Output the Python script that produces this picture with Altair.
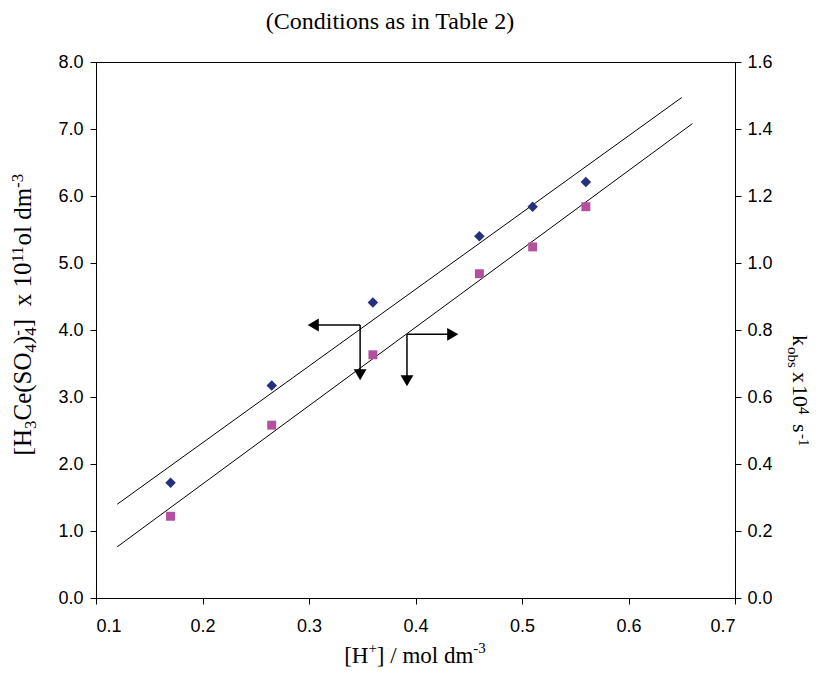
import altair as alt
import pandas as pd

# ---- data ----
h_conc = [0.17, 0.265, 0.36, 0.46, 0.51, 0.56]          # [H+] / mol dm-3
complex_conc = [1.72, 3.17, 4.41, 5.40, 5.84, 6.21]     # left axis (diamonds)
k_obs = [0.244, 0.516, 0.726, 0.968, 1.048, 1.168]      # right axis (squares)

fit_upper_x = [0.12, 0.65]
fit_upper_y = [1.40, 7.47]
fit_lower_x = [0.12, 0.66]
fit_lower_k = [0.153, 1.416]

x_ticks = [0.1, 0.2, 0.3, 0.4, 0.5, 0.6, 0.7]
left_ticks = [0, 1, 2, 3, 4, 5, 6, 7, 8]
right_ticks = [0, 0.2, 0.4, 0.6, 0.8, 1.0, 1.2, 1.4, 1.6]

# annotation arrows (left-axis units)
arrow_x = [0.348, 0.348, 0.392, 0.392]
arrow_y = [4.075, 4.075, 3.935, 3.935]
arrow_x2 = [0.304, 0.348, 0.435, 0.392]
arrow_y2 = [4.075, 3.333, 3.935, 3.243]
head_shape = ["triangle-left", "triangle-down", "triangle-right", "triangle-down"]

pts = pd.DataFrame({"h": h_conc, "c": complex_conc, "k": k_obs})
up = pd.DataFrame({"x": fit_upper_x, "y": fit_upper_y})
lo = pd.DataFrame({"x": fit_lower_x, "k": fit_lower_k})
arr = pd.DataFrame({"x": arrow_x, "y": arrow_y, "x2": arrow_x2, "y2": arrow_y2, "shape": head_shape})

W, H = 639, 536
OX, OY = 96, 62  # view origin on page

xs = alt.Scale(domain=[0.1, 0.7], nice=False, zero=False)
ys_left = alt.Scale(domain=[0, 8], nice=False)
ys_right = alt.Scale(domain=[0, 1.6], nice=False)

ax_common = dict(format=".1f", title=None, grid=False, domainColor="black", tickColor="black",
                 labelColor="black", tickSize=6, labelFont="Liberation Sans", labelFontSize=18,
                 domainWidth=1, tickWidth=1)
x_axis = alt.Axis(values=x_ticks, labelPadding=13, **ax_common)
left_axis = alt.Axis(values=left_ticks, labelPadding=7, **ax_common)
right_axis = alt.Axis(values=right_ticks, orient="right", labelPadding=6, **ax_common)


def X(f):
    return alt.X(f, scale=xs, axis=x_axis)


def YL(f):
    return alt.Y(f, scale=ys_left, axis=left_axis)


def YR(f):
    return alt.Y(f, scale=ys_right, axis=right_axis)


upper_line = alt.Chart(up).mark_line(color="black", strokeWidth=1).encode(x=X("x:Q"), y=YL("y:Q"))
arrow_lines = alt.Chart(arr).mark_rule(color="black", strokeWidth=1.5).encode(
    x=X("x:Q"), y=YL("y:Q"), x2="x2:Q", y2="y2:Q")
arrow_heads = alt.Chart(arr).mark_point(filled=True, color="black", size=165, opacity=1).encode(
    x=X("x2:Q"), y=YL("y2:Q"), shape=alt.Shape("shape:N", scale=None, legend=None))
diam = alt.Chart(pts).mark_point(shape="diamond", filled=True, size=110, color="#25307F", opacity=1).encode(
    x=X("h:Q"), y=YL("c:Q"))
left_layer = alt.layer(upper_line, arrow_lines, arrow_heads, diam)

lower_line = alt.Chart(lo).mark_line(color="black", strokeWidth=1).encode(x=X("x:Q"), y=YR("k:Q"))
sq = alt.Chart(pts).mark_square(size=80, color="#B4519F", opacity=1).encode(x=X("h:Q"), y=YR("k:Q"))
right_layer = alt.layer(lower_line, sq)

# ---- rich-text titles built from pieces (sub/superscripts) ----
TW = {'[': .333, ']': .333, 'H': .722, 'C': .667, 'e': .444, '(': .333, ')': .333, 'S': .556,
      'O': .722, ' ': .25, 'x': .5, 'o': .5, 'l': .278, 'd': .5, 'm': .778, '-': .333, '+': .564,
      '/': .278, 'k': .5, 'b': .5, 's': .389}


def tw(t, size):
    return sum(TW.get(c, .5) for c in t) * size


one = pd.DataFrame({"a": [0]})


def txt(t, x, y, size, angle=0, align="left", baseline="alphabetic"):
    kw = dict(text=t, font="Liberation Serif", fontSize=size, align=align, baseline=baseline, color="black")
    if angle:
        kw["angle"] = angle
    return alt.Chart(one).mark_text(**kw).encode(x=alt.value(x - OX), y=alt.value(y - OY))


layers = []
layers.append(txt("(Conditions as in Table 2)", 390, 22, 24, align="center", baseline="middle"))

# x title: [H+] / mol dm-3  (horizontal)
M, Sm = 23, 15
xt = [("[H", "n"), ("+", "sup"), ("] / mol dm", "n"), ("-3", "sup")]
tot = sum(tw(t, M if k == "n" else Sm) for t, k in xt)
cx = 415 - tot / 2
for t, k in xt:
    s = M if k == "n" else Sm
    layers.append(txt(t, cx, 663 if k == "n" else 653, s))
    cx += tw(t, s)

# left title: [H3Ce(SO4)4-]  x 10^11 ol dm^-3  (angle 270, reading upward)
M, Sm = 25, 17
lt = [("[H", "n", True), ("3", "sub", True), ("Ce(SO", "n", True), ("4", "sub", True), (")", "n", True),
      ("4", "sub", False), ("-", "sup", True), ("]", "n", True), (0.5, "gap", True), ("x", "n", True),
      (0.25, "gap", True), ("10", "n", True), ("11", "sup", True), ("ol", "n", True), (0.25, "gap", True),
      ("dm", "n", True), ("-3", "sup", True)]
bx = {"n": 31, "sub": 36, "sup": 23}


def adv(t, k):
    if k == "gap":
        return t * M
    return tw(t, M if k == "n" else Sm)


tot = 0
for t, k, a in lt:
    if a:
        tot += adv(t, k)
cy = 316 + tot / 2
pending = 0
for t, k, a in lt:
    if k != "gap":
        layers.append(txt(t, bx[k], cy, M if k == "n" else Sm, angle=270))
    if a:
        cy -= max(adv(t, k), pending)
        pending = 0
    else:
        pending = adv(t, k)

# right title: k_obs x 10^4 s^-1 (angle 90, reading downward)
rtp = [("k", "n", 335), ("obs", "sub", 347), ("x", "n", 372), ("10", "n", 385), ("4", "sup", 407),
       ("s", "n", 424), ("-1", "sup", 434)]
bxr = {"n": 793, "sub": 788, "sup": 799}
for t, k, y0 in rtp:
    layers.append(txt(t, bxr[k], y0, 22 if k == "n" else 15, angle=90))

chart = alt.layer(left_layer, right_layer, *layers).resolve_scale(y="independent").properties(
    width=W, height=H,
    padding={"left": OX - 8, "top": OY - 8, "right": 806 - (OX - 8) - W, "bottom": 661 - (OY - 8) - H},
    autosize=alt.AutoSizeParams(type="none"),
    background="white",
).configure_view(stroke="black", strokeWidth=1)

chart.save("out.html", embed_options={"renderer": "svg", "actions": False})
